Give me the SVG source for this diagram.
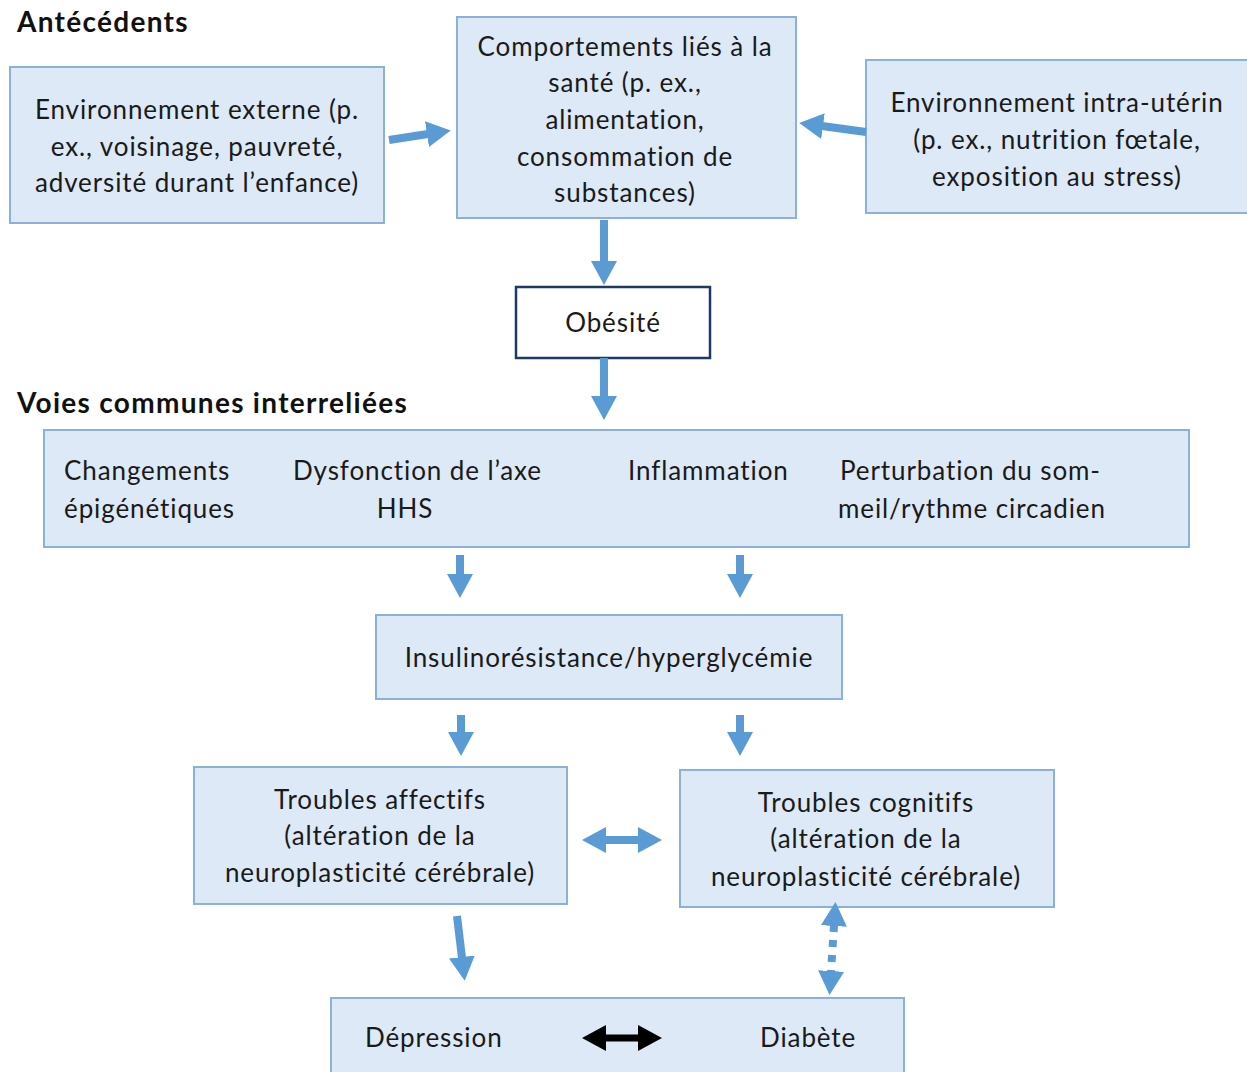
<svg xmlns="http://www.w3.org/2000/svg" width="1247" height="1072" viewBox="0 0 1247 1072">
  <defs>
    <style>
      .box { fill: #dde9f6; stroke: #8bb0d9; stroke-width: 2; }
      .obese { fill: #ffffff; stroke: #1f3864; stroke-width: 2.5; }
      .t { font-family: Lato, "Open Sans", sans-serif; font-size: 26px; letter-spacing: 0.9px; fill: #1a1a1a; }
      .c { text-anchor: middle; }
      .h { font-family: Lato, "Open Sans", sans-serif; font-size: 28px; letter-spacing: 1.3px; font-weight: bold; fill: #111111; }
      .arr { stroke: #5b9bd5; stroke-width: 8; fill: none; }
      .blk { stroke: #000000; stroke-width: 7; fill: none; }
    </style>
    <marker id="head" markerUnits="userSpaceOnUse" markerWidth="24" markerHeight="26" refX="1" refY="13" orient="auto-start-reverse">
      <path d="M0,0 L24,13 L0,26 z" fill="#5b9bd5"/>
    </marker>
    <marker id="headBlack" markerUnits="userSpaceOnUse" markerWidth="24" markerHeight="26" refX="1" refY="13" orient="auto-start-reverse">
      <path d="M0,0 L24,13 L0,26 z" fill="#000000"/>
    </marker>
  </defs>

  <rect width="1247" height="1072" fill="#ffffff"/>

  <!-- section headings -->
  <text class="h" x="17" y="32">Antécédents</text>
  <text class="h" x="17" y="413">Voies communes interreliées</text>

  <g id="env-externe">
    <rect class="box" x="10" y="67" width="374" height="156"/>
    <text class="t c" x="197" y="119">Environnement externe (p.</text>
    <text class="t c" x="197" y="156">ex., voisinage, pauvreté,</text>
    <text class="t c" x="197" y="192">adversité durant l’enfance)</text>
  </g>

  <g id="comportements">
    <rect class="box" x="457" y="17" width="339" height="201"/>
    <text class="t c" x="625" y="56">Comportements liés à la</text>
    <text class="t c" x="625" y="92">santé (p. ex.,</text>
    <text class="t c" x="625" y="129">alimentation,</text>
    <text class="t c" x="625" y="166">consommation de</text>
    <text class="t c" x="625" y="202">substances)</text>
  </g>

  <g id="env-intra-uterin">
    <rect class="box" x="866" y="60" width="390" height="153"/>
    <text class="t c" x="1057" y="112">Environnement intra-utérin</text>
    <text class="t c" x="1057" y="149">(p. ex., nutrition fœtale,</text>
    <text class="t c" x="1057" y="186">exposition au stress)</text>
  </g>

  <g id="obesite">
    <rect class="obese" x="516" y="287" width="194" height="71"/>
    <text class="t c" x="613" y="332">Obésité</text>
  </g>

  <g id="voies-communes">
    <rect class="box" x="44" y="430" width="1145" height="117"/>
    <text class="t" x="64" y="480">Changements</text>
    <text class="t" x="64" y="518">épigénétiques</text>
    <text class="t" x="293" y="480">Dysfonction de l’axe</text>
    <text class="t c" x="405" y="518">HHS</text>
    <text class="t" x="628" y="480">Inflammation</text>
    <text class="t" x="840" y="480">Perturbation du som-</text>
    <text class="t" x="838" y="518">meil/rythme circadien</text>
  </g>

  <g id="insulinoresistance">
    <rect class="box" x="376" y="615" width="466" height="84"/>
    <text class="t c" x="609" y="667">Insulinorésistance/hyperglycémie</text>
  </g>

  <g id="troubles-affectifs">
    <rect class="box" x="194" y="767" width="373" height="137"/>
    <text class="t c" x="380" y="809">Troubles affectifs</text>
    <text class="t c" x="380" y="845">(altération de la</text>
    <text class="t c" x="380" y="882">neuroplasticité cérébrale)</text>
  </g>

  <g id="troubles-cognitifs">
    <rect class="box" x="680" y="770" width="374" height="137"/>
    <text class="t c" x="866" y="812">Troubles cognitifs</text>
    <text class="t c" x="866" y="848">(altération de la</text>
    <text class="t c" x="866" y="886">neuroplasticité cérébrale)</text>
  </g>

  <g id="depression-diabete">
    <rect class="box" x="331" y="998" width="573" height="84"/>
    <text class="t" x="365" y="1047">Dépression</text>
    <text class="t" x="760" y="1047">Diabète</text>
  </g>

  <g id="connectors">
    <line class="arr" x1="389" y1="140" x2="428" y2="134" marker-end="url(#head)"/>
    <line class="arr" x1="866" y1="132" x2="822" y2="126" marker-end="url(#head)"/>
    <line class="arr" x1="604" y1="220" x2="604" y2="262" marker-end="url(#head)"/>
    <line class="arr" x1="604" y1="358" x2="604" y2="397" marker-end="url(#head)"/>
    <line class="arr" x1="460" y1="555" x2="460" y2="575" marker-end="url(#head)"/>
    <line class="arr" x1="740" y1="555" x2="740" y2="575" marker-end="url(#head)"/>
    <line class="arr" x1="461" y1="715" x2="461" y2="733" marker-end="url(#head)"/>
    <line class="arr" x1="740" y1="715" x2="740" y2="733" marker-end="url(#head)"/>
    <line class="arr" x1="605" y1="840" x2="639" y2="840" marker-start="url(#head)" marker-end="url(#head)"/>
    <line class="arr" x1="457" y1="916" x2="462" y2="958" marker-end="url(#head)"/>
    <line class="arr" x1="834" y1="925" x2="831" y2="972" stroke-dasharray="7 8" marker-start="url(#head)" marker-end="url(#head)"/>
    <line class="blk" x1="605" y1="1038" x2="639" y2="1038" marker-start="url(#headBlack)" marker-end="url(#headBlack)"/>
  </g>
</svg>
